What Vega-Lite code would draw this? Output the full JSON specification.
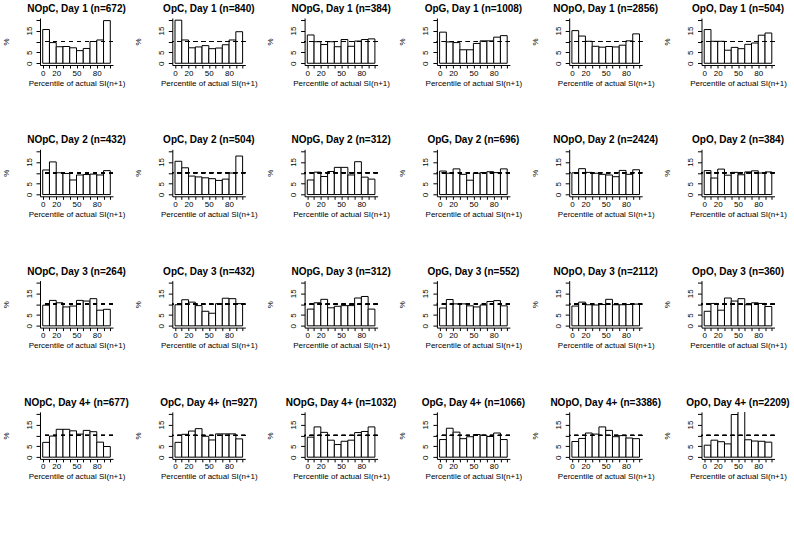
{
  "$schema": "https://vega.github.io/schema/vega-lite/v6.json",
  "padding": {"left": 2, "top": 4, "right": 0, "bottom": 0},
  "background": "white",
  "data": {"values": [
    {"o":0,"p":"NOpC, Day 1 (n=672)","b0":0,"b1":10,"v":15.5},{"o":0,"p":"NOpC, Day 1 (n=672)","b0":10,"b1":20,"v":9.5},{"o":0,"p":"NOpC, Day 1 (n=672)","b0":20,"b1":30,"v":7.6},{"o":0,"p":"NOpC, Day 1 (n=672)","b0":30,"b1":40,"v":7.7},{"o":0,"p":"NOpC, Day 1 (n=672)","b0":40,"b1":50,"v":7.1},{"o":0,"p":"NOpC, Day 1 (n=672)","b0":50,"b1":60,"v":5.8},{"o":0,"p":"NOpC, Day 1 (n=672)","b0":60,"b1":70,"v":6.8},{"o":0,"p":"NOpC, Day 1 (n=672)","b0":70,"b1":80,"v":10.0},{"o":0,"p":"NOpC, Day 1 (n=672)","b0":80,"b1":90,"v":10.7},{"o":0,"p":"NOpC, Day 1 (n=672)","b0":90,"b1":100,"v":19.6},
    {"o":1,"p":"OpC, Day 1 (n=840)","b0":0,"b1":10,"v":19.8},{"o":1,"p":"OpC, Day 1 (n=840)","b0":10,"b1":20,"v":10.7},{"o":1,"p":"OpC, Day 1 (n=840)","b0":20,"b1":30,"v":7.1},{"o":1,"p":"OpC, Day 1 (n=840)","b0":30,"b1":40,"v":7.5},{"o":1,"p":"OpC, Day 1 (n=840)","b0":40,"b1":50,"v":8.1},{"o":1,"p":"OpC, Day 1 (n=840)","b0":50,"b1":60,"v":6.7},{"o":1,"p":"OpC, Day 1 (n=840)","b0":60,"b1":70,"v":7.0},{"o":1,"p":"OpC, Day 1 (n=840)","b0":70,"b1":80,"v":8.5},{"o":1,"p":"OpC, Day 1 (n=840)","b0":80,"b1":90,"v":10.7},{"o":1,"p":"OpC, Day 1 (n=840)","b0":90,"b1":100,"v":14.5},
    {"o":2,"p":"NOpG, Day 1 (n=384)","b0":0,"b1":10,"v":13.0},{"o":2,"p":"NOpG, Day 1 (n=384)","b0":10,"b1":20,"v":9.9},{"o":2,"p":"NOpG, Day 1 (n=384)","b0":20,"b1":30,"v":8.6},{"o":2,"p":"NOpG, Day 1 (n=384)","b0":30,"b1":40,"v":9.9},{"o":2,"p":"NOpG, Day 1 (n=384)","b0":40,"b1":50,"v":7.6},{"o":2,"p":"NOpG, Day 1 (n=384)","b0":50,"b1":60,"v":10.9},{"o":2,"p":"NOpG, Day 1 (n=384)","b0":60,"b1":70,"v":7.8},{"o":2,"p":"NOpG, Day 1 (n=384)","b0":70,"b1":80,"v":10.2},{"o":2,"p":"NOpG, Day 1 (n=384)","b0":80,"b1":90,"v":10.9},{"o":2,"p":"NOpG, Day 1 (n=384)","b0":90,"b1":100,"v":11.2},
    {"o":3,"p":"OpG, Day 1 (n=1008)","b0":0,"b1":10,"v":14.3},{"o":3,"p":"OpG, Day 1 (n=1008)","b0":10,"b1":20,"v":9.8},{"o":3,"p":"OpG, Day 1 (n=1008)","b0":20,"b1":30,"v":9.5},{"o":3,"p":"OpG, Day 1 (n=1008)","b0":30,"b1":40,"v":6.2},{"o":3,"p":"OpG, Day 1 (n=1008)","b0":40,"b1":50,"v":6.2},{"o":3,"p":"OpG, Day 1 (n=1008)","b0":50,"b1":60,"v":9.1},{"o":3,"p":"OpG, Day 1 (n=1008)","b0":60,"b1":70,"v":10.3},{"o":3,"p":"OpG, Day 1 (n=1008)","b0":70,"b1":80,"v":10.3},{"o":3,"p":"OpG, Day 1 (n=1008)","b0":80,"b1":90,"v":12.0},{"o":3,"p":"OpG, Day 1 (n=1008)","b0":90,"b1":100,"v":12.7},
    {"o":4,"p":"NOpO, Day 1 (n=2856)","b0":0,"b1":10,"v":15.0},{"o":4,"p":"NOpO, Day 1 (n=2856)","b0":10,"b1":20,"v":12.5},{"o":4,"p":"NOpO, Day 1 (n=2856)","b0":20,"b1":30,"v":10.1},{"o":4,"p":"NOpO, Day 1 (n=2856)","b0":30,"b1":40,"v":7.8},{"o":4,"p":"NOpO, Day 1 (n=2856)","b0":40,"b1":50,"v":7.4},{"o":4,"p":"NOpO, Day 1 (n=2856)","b0":50,"b1":60,"v":7.7},{"o":4,"p":"NOpO, Day 1 (n=2856)","b0":60,"b1":70,"v":7.5},{"o":4,"p":"NOpO, Day 1 (n=2856)","b0":70,"b1":80,"v":8.3},{"o":4,"p":"NOpO, Day 1 (n=2856)","b0":80,"b1":90,"v":10.3},{"o":4,"p":"NOpO, Day 1 (n=2856)","b0":90,"b1":100,"v":13.5},
    {"o":5,"p":"OpO, Day 1 (n=504)","b0":0,"b1":10,"v":15.5},{"o":5,"p":"OpO, Day 1 (n=504)","b0":10,"b1":20,"v":10.1},{"o":5,"p":"OpO, Day 1 (n=504)","b0":20,"b1":30,"v":10.1},{"o":5,"p":"OpO, Day 1 (n=504)","b0":30,"b1":40,"v":6.0},{"o":5,"p":"OpO, Day 1 (n=504)","b0":40,"b1":50,"v":7.3},{"o":5,"p":"OpO, Day 1 (n=504)","b0":50,"b1":60,"v":6.7},{"o":5,"p":"OpO, Day 1 (n=504)","b0":60,"b1":70,"v":8.7},{"o":5,"p":"OpO, Day 1 (n=504)","b0":70,"b1":80,"v":9.3},{"o":5,"p":"OpO, Day 1 (n=504)","b0":80,"b1":90,"v":12.9},{"o":5,"p":"OpO, Day 1 (n=504)","b0":90,"b1":100,"v":13.9},
    {"o":6,"p":"NOpC, Day 2 (n=432)","b0":0,"b1":10,"v":11.3},{"o":6,"p":"NOpC, Day 2 (n=432)","b0":10,"b1":20,"v":15.0},{"o":6,"p":"NOpC, Day 2 (n=432)","b0":20,"b1":30,"v":10.0},{"o":6,"p":"NOpC, Day 2 (n=432)","b0":30,"b1":40,"v":9.7},{"o":6,"p":"NOpC, Day 2 (n=432)","b0":40,"b1":50,"v":6.7},{"o":6,"p":"NOpC, Day 2 (n=432)","b0":50,"b1":60,"v":9.0},{"o":6,"p":"NOpC, Day 2 (n=432)","b0":60,"b1":70,"v":9.2},{"o":6,"p":"NOpC, Day 2 (n=432)","b0":70,"b1":80,"v":9.4},{"o":6,"p":"NOpC, Day 2 (n=432)","b0":80,"b1":90,"v":9.0},{"o":6,"p":"NOpC, Day 2 (n=432)","b0":90,"b1":100,"v":11.0},
    {"o":7,"p":"OpC, Day 2 (n=504)","b0":0,"b1":10,"v":15.3},{"o":7,"p":"OpC, Day 2 (n=504)","b0":10,"b1":20,"v":12.3},{"o":7,"p":"OpC, Day 2 (n=504)","b0":20,"b1":30,"v":8.5},{"o":7,"p":"OpC, Day 2 (n=504)","b0":30,"b1":40,"v":8.1},{"o":7,"p":"OpC, Day 2 (n=504)","b0":40,"b1":50,"v":7.7},{"o":7,"p":"OpC, Day 2 (n=504)","b0":50,"b1":60,"v":7.3},{"o":7,"p":"OpC, Day 2 (n=504)","b0":60,"b1":70,"v":6.5},{"o":7,"p":"OpC, Day 2 (n=504)","b0":70,"b1":80,"v":7.1},{"o":7,"p":"OpC, Day 2 (n=504)","b0":80,"b1":90,"v":9.9},{"o":7,"p":"OpC, Day 2 (n=504)","b0":90,"b1":100,"v":17.7},
    {"o":8,"p":"NOpG, Day 2 (n=312)","b0":0,"b1":10,"v":6.7},{"o":8,"p":"NOpG, Day 2 (n=312)","b0":10,"b1":20,"v":10.3},{"o":8,"p":"NOpG, Day 2 (n=312)","b0":20,"b1":30,"v":8.3},{"o":8,"p":"NOpG, Day 2 (n=312)","b0":30,"b1":40,"v":10.6},{"o":8,"p":"NOpG, Day 2 (n=312)","b0":40,"b1":50,"v":12.5},{"o":8,"p":"NOpG, Day 2 (n=312)","b0":50,"b1":60,"v":12.5},{"o":8,"p":"NOpG, Day 2 (n=312)","b0":60,"b1":70,"v":9.0},{"o":8,"p":"NOpG, Day 2 (n=312)","b0":70,"b1":80,"v":15.1},{"o":8,"p":"NOpG, Day 2 (n=312)","b0":80,"b1":90,"v":8.0},{"o":8,"p":"NOpG, Day 2 (n=312)","b0":90,"b1":100,"v":7.1},
    {"o":9,"p":"OpG, Day 2 (n=696)","b0":0,"b1":10,"v":10.8},{"o":9,"p":"OpG, Day 2 (n=696)","b0":10,"b1":20,"v":9.8},{"o":9,"p":"OpG, Day 2 (n=696)","b0":20,"b1":30,"v":11.8},{"o":9,"p":"OpG, Day 2 (n=696)","b0":30,"b1":40,"v":9.3},{"o":9,"p":"OpG, Day 2 (n=696)","b0":40,"b1":50,"v":6.6},{"o":9,"p":"OpG, Day 2 (n=696)","b0":50,"b1":60,"v":9.8},{"o":9,"p":"OpG, Day 2 (n=696)","b0":60,"b1":70,"v":10.1},{"o":9,"p":"OpG, Day 2 (n=696)","b0":70,"b1":80,"v":10.5},{"o":9,"p":"OpG, Day 2 (n=696)","b0":80,"b1":90,"v":10.1},{"o":9,"p":"OpG, Day 2 (n=696)","b0":90,"b1":100,"v":11.8},
    {"o":10,"p":"NOpO, Day 2 (n=2424)","b0":0,"b1":10,"v":10.0},{"o":10,"p":"NOpO, Day 2 (n=2424)","b0":10,"b1":20,"v":11.9},{"o":10,"p":"NOpO, Day 2 (n=2424)","b0":20,"b1":30,"v":10.2},{"o":10,"p":"NOpO, Day 2 (n=2424)","b0":30,"b1":40,"v":9.8},{"o":10,"p":"NOpO, Day 2 (n=2424)","b0":40,"b1":50,"v":9.3},{"o":10,"p":"NOpO, Day 2 (n=2424)","b0":50,"b1":60,"v":9.0},{"o":10,"p":"NOpO, Day 2 (n=2424)","b0":60,"b1":70,"v":8.2},{"o":10,"p":"NOpO, Day 2 (n=2424)","b0":70,"b1":80,"v":11.1},{"o":10,"p":"NOpO, Day 2 (n=2424)","b0":80,"b1":90,"v":9.3},{"o":10,"p":"NOpO, Day 2 (n=2424)","b0":90,"b1":100,"v":11.4},
    {"o":11,"p":"OpO, Day 2 (n=384)","b0":0,"b1":10,"v":11.0},{"o":11,"p":"OpO, Day 2 (n=384)","b0":10,"b1":20,"v":7.6},{"o":11,"p":"OpO, Day 2 (n=384)","b0":20,"b1":30,"v":11.7},{"o":11,"p":"OpO, Day 2 (n=384)","b0":30,"b1":40,"v":8.9},{"o":11,"p":"OpO, Day 2 (n=384)","b0":40,"b1":50,"v":10.2},{"o":11,"p":"OpO, Day 2 (n=384)","b0":50,"b1":60,"v":9.1},{"o":11,"p":"OpO, Day 2 (n=384)","b0":60,"b1":70,"v":10.4},{"o":11,"p":"OpO, Day 2 (n=384)","b0":70,"b1":80,"v":10.9},{"o":11,"p":"OpO, Day 2 (n=384)","b0":80,"b1":90,"v":9.9},{"o":11,"p":"OpO, Day 2 (n=384)","b0":90,"b1":100,"v":10.4},
    {"o":12,"p":"NOpC, Day 3 (n=264)","b0":0,"b1":10,"v":9.5},{"o":12,"p":"NOpC, Day 3 (n=264)","b0":10,"b1":20,"v":11.7},{"o":12,"p":"NOpC, Day 3 (n=264)","b0":20,"b1":30,"v":10.6},{"o":12,"p":"NOpC, Day 3 (n=264)","b0":30,"b1":40,"v":8.7},{"o":12,"p":"NOpC, Day 3 (n=264)","b0":40,"b1":50,"v":9.1},{"o":12,"p":"NOpC, Day 3 (n=264)","b0":50,"b1":60,"v":11.7},{"o":12,"p":"NOpC, Day 3 (n=264)","b0":60,"b1":70,"v":11.4},{"o":12,"p":"NOpC, Day 3 (n=264)","b0":70,"b1":80,"v":12.5},{"o":12,"p":"NOpC, Day 3 (n=264)","b0":80,"b1":90,"v":7.2},{"o":12,"p":"NOpC, Day 3 (n=264)","b0":90,"b1":100,"v":7.6},
    {"o":13,"p":"OpC, Day 3 (n=432)","b0":0,"b1":10,"v":9.7},{"o":13,"p":"OpC, Day 3 (n=432)","b0":10,"b1":20,"v":12.0},{"o":13,"p":"OpC, Day 3 (n=432)","b0":20,"b1":30,"v":10.9},{"o":13,"p":"OpC, Day 3 (n=432)","b0":30,"b1":40,"v":9.3},{"o":13,"p":"OpC, Day 3 (n=432)","b0":40,"b1":50,"v":6.7},{"o":13,"p":"OpC, Day 3 (n=432)","b0":50,"b1":60,"v":5.8},{"o":13,"p":"OpC, Day 3 (n=432)","b0":60,"b1":70,"v":10.2},{"o":13,"p":"OpC, Day 3 (n=432)","b0":70,"b1":80,"v":12.7},{"o":13,"p":"OpC, Day 3 (n=432)","b0":80,"b1":90,"v":12.5},{"o":13,"p":"OpC, Day 3 (n=432)","b0":90,"b1":100,"v":10.2},
    {"o":14,"p":"NOpG, Day 3 (n=312)","b0":0,"b1":10,"v":7.7},{"o":14,"p":"NOpG, Day 3 (n=312)","b0":10,"b1":20,"v":10.6},{"o":14,"p":"NOpG, Day 3 (n=312)","b0":20,"b1":30,"v":12.2},{"o":14,"p":"NOpG, Day 3 (n=312)","b0":30,"b1":40,"v":8.3},{"o":14,"p":"NOpG, Day 3 (n=312)","b0":40,"b1":50,"v":9.0},{"o":14,"p":"NOpG, Day 3 (n=312)","b0":50,"b1":60,"v":9.3},{"o":14,"p":"NOpG, Day 3 (n=312)","b0":60,"b1":70,"v":9.3},{"o":14,"p":"NOpG, Day 3 (n=312)","b0":70,"b1":80,"v":12.8},{"o":14,"p":"NOpG, Day 3 (n=312)","b0":80,"b1":90,"v":13.5},{"o":14,"p":"NOpG, Day 3 (n=312)","b0":90,"b1":100,"v":7.7},
    {"o":15,"p":"OpG, Day 3 (n=552)","b0":0,"b1":10,"v":8.2},{"o":15,"p":"OpG, Day 3 (n=552)","b0":10,"b1":20,"v":12.1},{"o":15,"p":"OpG, Day 3 (n=552)","b0":20,"b1":30,"v":10.1},{"o":15,"p":"OpG, Day 3 (n=552)","b0":30,"b1":40,"v":10.1},{"o":15,"p":"OpG, Day 3 (n=552)","b0":40,"b1":50,"v":9.2},{"o":15,"p":"OpG, Day 3 (n=552)","b0":50,"b1":60,"v":8.7},{"o":15,"p":"OpG, Day 3 (n=552)","b0":60,"b1":70,"v":9.6},{"o":15,"p":"OpG, Day 3 (n=552)","b0":70,"b1":80,"v":11.2},{"o":15,"p":"OpG, Day 3 (n=552)","b0":80,"b1":90,"v":11.6},{"o":15,"p":"OpG, Day 3 (n=552)","b0":90,"b1":100,"v":9.2},
    {"o":16,"p":"NOpO, Day 3 (n=2112)","b0":0,"b1":10,"v":9.1},{"o":16,"p":"NOpO, Day 3 (n=2112)","b0":10,"b1":20,"v":10.9},{"o":16,"p":"NOpO, Day 3 (n=2112)","b0":20,"b1":30,"v":9.7},{"o":16,"p":"NOpO, Day 3 (n=2112)","b0":30,"b1":40,"v":9.6},{"o":16,"p":"NOpO, Day 3 (n=2112)","b0":40,"b1":50,"v":9.8},{"o":16,"p":"NOpO, Day 3 (n=2112)","b0":50,"b1":60,"v":12.2},{"o":16,"p":"NOpO, Day 3 (n=2112)","b0":60,"b1":70,"v":9.7},{"o":16,"p":"NOpO, Day 3 (n=2112)","b0":70,"b1":80,"v":9.7},{"o":16,"p":"NOpO, Day 3 (n=2112)","b0":80,"b1":90,"v":9.8},{"o":16,"p":"NOpO, Day 3 (n=2112)","b0":90,"b1":100,"v":10.0},
    {"o":17,"p":"OpO, Day 3 (n=360)","b0":0,"b1":10,"v":6.7},{"o":17,"p":"OpO, Day 3 (n=360)","b0":10,"b1":20,"v":10.3},{"o":17,"p":"OpO, Day 3 (n=360)","b0":20,"b1":30,"v":7.2},{"o":17,"p":"OpO, Day 3 (n=360)","b0":30,"b1":40,"v":12.8},{"o":17,"p":"OpO, Day 3 (n=360)","b0":40,"b1":50,"v":11.4},{"o":17,"p":"OpO, Day 3 (n=360)","b0":50,"b1":60,"v":12.5},{"o":17,"p":"OpO, Day 3 (n=360)","b0":60,"b1":70,"v":9.7},{"o":17,"p":"OpO, Day 3 (n=360)","b0":70,"b1":80,"v":10.6},{"o":17,"p":"OpO, Day 3 (n=360)","b0":80,"b1":90,"v":10.3},{"o":17,"p":"OpO, Day 3 (n=360)","b0":90,"b1":100,"v":8.9},
    {"o":18,"p":"NOpC, Day 4+ (n=677)","b0":0,"b1":10,"v":6.8},{"o":18,"p":"NOpC, Day 4+ (n=677)","b0":10,"b1":20,"v":9.7},{"o":18,"p":"NOpC, Day 4+ (n=677)","b0":20,"b1":30,"v":12.8},{"o":18,"p":"NOpC, Day 4+ (n=677)","b0":30,"b1":40,"v":12.8},{"o":18,"p":"NOpC, Day 4+ (n=677)","b0":40,"b1":50,"v":12.1},{"o":18,"p":"NOpC, Day 4+ (n=677)","b0":50,"b1":60,"v":10.6},{"o":18,"p":"NOpC, Day 4+ (n=677)","b0":60,"b1":70,"v":12.3},{"o":18,"p":"NOpC, Day 4+ (n=677)","b0":70,"b1":80,"v":11.7},{"o":18,"p":"NOpC, Day 4+ (n=677)","b0":80,"b1":90,"v":6.9},{"o":18,"p":"NOpC, Day 4+ (n=677)","b0":90,"b1":100,"v":4.9},
    {"o":19,"p":"OpC, Day 4+ (n=927)","b0":0,"b1":10,"v":6.8},{"o":19,"p":"OpC, Day 4+ (n=927)","b0":10,"b1":20,"v":10.5},{"o":19,"p":"OpC, Day 4+ (n=927)","b0":20,"b1":30,"v":12.0},{"o":19,"p":"OpC, Day 4+ (n=927)","b0":30,"b1":40,"v":13.1},{"o":19,"p":"OpC, Day 4+ (n=927)","b0":40,"b1":50,"v":9.6},{"o":19,"p":"OpC, Day 4+ (n=927)","b0":50,"b1":60,"v":7.9},{"o":19,"p":"OpC, Day 4+ (n=927)","b0":60,"b1":70,"v":10.7},{"o":19,"p":"OpC, Day 4+ (n=927)","b0":70,"b1":80,"v":10.7},{"o":19,"p":"OpC, Day 4+ (n=927)","b0":80,"b1":90,"v":10.7},{"o":19,"p":"OpC, Day 4+ (n=927)","b0":90,"b1":100,"v":8.4},
    {"o":20,"p":"NOpG, Day 4+ (n=1032)","b0":0,"b1":10,"v":9.2},{"o":20,"p":"NOpG, Day 4+ (n=1032)","b0":10,"b1":20,"v":13.9},{"o":20,"p":"NOpG, Day 4+ (n=1032)","b0":20,"b1":30,"v":11.4},{"o":20,"p":"NOpG, Day 4+ (n=1032)","b0":30,"b1":40,"v":7.8},{"o":20,"p":"NOpG, Day 4+ (n=1032)","b0":40,"b1":50,"v":5.8},{"o":20,"p":"NOpG, Day 4+ (n=1032)","b0":50,"b1":60,"v":7.3},{"o":20,"p":"NOpG, Day 4+ (n=1032)","b0":60,"b1":70,"v":7.8},{"o":20,"p":"NOpG, Day 4+ (n=1032)","b0":70,"b1":80,"v":11.3},{"o":20,"p":"NOpG, Day 4+ (n=1032)","b0":80,"b1":90,"v":11.8},{"o":20,"p":"NOpG, Day 4+ (n=1032)","b0":90,"b1":100,"v":13.9},
    {"o":21,"p":"OpG, Day 4+ (n=1066)","b0":0,"b1":10,"v":8.1},{"o":21,"p":"OpG, Day 4+ (n=1066)","b0":10,"b1":20,"v":13.3},{"o":21,"p":"OpG, Day 4+ (n=1066)","b0":20,"b1":30,"v":11.5},{"o":21,"p":"OpG, Day 4+ (n=1066)","b0":30,"b1":40,"v":8.5},{"o":21,"p":"OpG, Day 4+ (n=1066)","b0":40,"b1":50,"v":9.4},{"o":21,"p":"OpG, Day 4+ (n=1066)","b0":50,"b1":60,"v":10.4},{"o":21,"p":"OpG, Day 4+ (n=1066)","b0":60,"b1":70,"v":10.1},{"o":21,"p":"OpG, Day 4+ (n=1066)","b0":70,"b1":80,"v":9.5},{"o":21,"p":"OpG, Day 4+ (n=1066)","b0":80,"b1":90,"v":11.1},{"o":21,"p":"OpG, Day 4+ (n=1066)","b0":90,"b1":100,"v":8.1},
    {"o":22,"p":"NOpO, Day 4+ (n=3386)","b0":0,"b1":10,"v":7.2},{"o":22,"p":"NOpO, Day 4+ (n=3386)","b0":10,"b1":20,"v":8.6},{"o":22,"p":"NOpO, Day 4+ (n=3386)","b0":20,"b1":30,"v":11.1},{"o":22,"p":"NOpO, Day 4+ (n=3386)","b0":30,"b1":40,"v":10.6},{"o":22,"p":"NOpO, Day 4+ (n=3386)","b0":40,"b1":50,"v":13.9},{"o":22,"p":"NOpO, Day 4+ (n=3386)","b0":50,"b1":60,"v":12.3},{"o":22,"p":"NOpO, Day 4+ (n=3386)","b0":60,"b1":70,"v":9.4},{"o":22,"p":"NOpO, Day 4+ (n=3386)","b0":70,"b1":80,"v":9.9},{"o":22,"p":"NOpO, Day 4+ (n=3386)","b0":80,"b1":90,"v":8.8},{"o":22,"p":"NOpO, Day 4+ (n=3386)","b0":90,"b1":100,"v":8.5},
    {"o":23,"p":"OpO, Day 4+ (n=2209)","b0":0,"b1":10,"v":5.5},{"o":23,"p":"OpO, Day 4+ (n=2209)","b0":10,"b1":20,"v":7.8},{"o":23,"p":"OpO, Day 4+ (n=2209)","b0":20,"b1":30,"v":7.1},{"o":23,"p":"OpO, Day 4+ (n=2209)","b0":30,"b1":40,"v":6.1},{"o":23,"p":"OpO, Day 4+ (n=2209)","b0":40,"b1":50,"v":19.6},{"o":23,"p":"OpO, Day 4+ (n=2209)","b0":50,"b1":60,"v":24.3},{"o":23,"p":"OpO, Day 4+ (n=2209)","b0":60,"b1":70,"v":8.0},{"o":23,"p":"OpO, Day 4+ (n=2209)","b0":70,"b1":80,"v":7.4},{"o":23,"p":"OpO, Day 4+ (n=2209)","b0":80,"b1":90,"v":7.3},{"o":23,"p":"OpO, Day 4+ (n=2209)","b0":90,"b1":100,"v":6.9}
  ]},
  "facet": {
    "field": "p",
    "type": "nominal",
    "sort": {"field": "o", "op": "min"},
    "header": {"title": null, "labelFont": "Liberation Sans", "labelFontSize": 10, "labelFontWeight": "bold", "labelColor": "black", "labelPadding": 4, "labelOrient": "top"}
  },
  "columns": 6,
  "bounds": "flush",
  "spacing": {"row": 84.3, "column": 59.3},
  "resolve": {"axis": {"x": "independent", "y": "independent"}},
  "spec": {
    "width": 73,
    "height": 47,
    "layer": [
      {
        "mark": {"type": "bar", "fill": "white", "stroke": "black", "strokeWidth": 1, "clip": true},
        "encoding": {
          "x": {"field": "b0", "type": "quantitative",
            "scale": {"domain": [-4, 104], "nice": false, "zero": false},
            "axis": {"values": [0,10,20,30,40,50,60,70,80,90,100], "labelOverlap": false, "tickSize": 3, "labelExpr": "indexof([0,20,50,80], datum.value) >= 0 ? datum.label : ''", "title": "Percentile of actual SI(n+1)", "titleY": 18, "titleBaseline": "middle"}},
          "x2": {"field": "b1"},
          "y": {"field": "v", "type": "quantitative",
            "scale": {"domain": [-0.8, 20.8], "nice": false, "zero": false},
            "axis": {"values": [0,5,10,15,20], "labelOverlap": false, "labelBound": false, "labelFlush": false, "labelExpr": "datum.value == 10 || datum.value == 20 ? '' : datum.label", "title": "%", "titleX": -34, "titleY": 23.5, "titleAngle": 270, "titleAlign": "center", "titleBaseline": "middle", "labelAngle": -90, "labelAlign": "center", "labelBaseline": "bottom", "labelPadding": 3}},
          "y2": {"datum": 0}
        }
      },
      {
        "mark": {"type": "rule", "stroke": "black", "strokeWidth": 1, "strokeDash": [4, 4]},
        "encoding": {"y": {"datum": 10, "type": "quantitative",
          "axis": {"values": [0,5,10,15,20], "labelOverlap": false, "labelBound": false, "labelFlush": false, "labelExpr": "datum.value == 10 || datum.value == 20 ? '' : datum.label", "title": "%", "titleX": -34, "titleY": 23.5, "titleAngle": 270, "titleAlign": "center", "titleBaseline": "middle", "labelAngle": -90, "labelAlign": "center", "labelBaseline": "bottom", "labelPadding": 3}}}
      }
    ]
  },
  "config": {
    "view": {"stroke": null},
    "font": "Liberation Sans",
    "axis": {
      "grid": false,
      "domainColor": "black",
      "tickColor": "black",
      "tickSize": 4,
      "labelColor": "black",
      "labelFont": "Liberation Sans",
      "labelFontSize": 8,
      "labelPadding": 1,
      "labelOverlap": false,
      "titleColor": "black",
      "titleFont": "Liberation Sans",
      "titleFontSize": 8,
      "titleFontWeight": "normal"
    }
  }
}
